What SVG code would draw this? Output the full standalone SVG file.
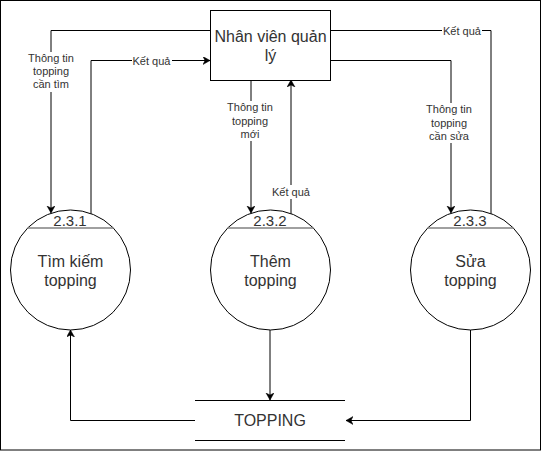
<svg xmlns="http://www.w3.org/2000/svg" width="542" height="452" viewBox="0 0 542 452">
<style>
.ln{fill:none;stroke:#000;stroke-width:1}
.sh{fill:#fff;stroke:#000;stroke-width:1}
.t16{font-family:"Liberation Sans",Arial,sans-serif;font-size:16px;fill:#333;text-anchor:middle}
.t15{font-family:"Liberation Sans",Arial,sans-serif;font-size:15px;fill:#333;text-anchor:middle}
.t11{font-family:"Liberation Sans",Arial,sans-serif;font-size:11px;fill:#333;text-anchor:middle}
.bg{fill:#fff;stroke:none}
</style>
<defs>
<marker id="arr" markerWidth="10" markerHeight="10" refX="7" refY="4" orient="auto" markerUnits="userSpaceOnUse">
<path d="M0,0 L7,4 L0,8 L2,4 Z" fill="#000" stroke="#000" stroke-width="0.5"/>
</marker>
</defs>
<rect x="0.5" y="0.5" width="540" height="449.5" fill="#fff" stroke="#000" stroke-width="1"/>

<g id="connectors">
<path class="ln" d="M210,30.5 H51 V213" marker-end="url(#arr)"/>
<path class="ln" d="M91,214 V60.5 H210" marker-end="url(#arr)"/>
<path class="ln" d="M251,80 V213" marker-end="url(#arr)"/>
<path class="ln" d="M291,214 V80" marker-end="url(#arr)"/>
<path class="ln" d="M330,60.5 H451 V213" marker-end="url(#arr)"/>
<path class="ln" d="M491,214 V30.5 H330"/>
<path class="ln" d="M270,330 V400" marker-end="url(#arr)"/>
<path class="ln" d="M195,420.5 H70.5 V330" marker-end="url(#arr)"/>
<path class="ln" d="M470.5,330 V420.5 H346" marker-end="url(#arr)"/>

<g id="lbl-tim">
<rect class="bg" x="25" y="52" width="52" height="40"/>
<text class="t11" x="51" y="62">Thông tin</text>
<text class="t11" x="51" y="75.2">topping</text>
<text class="t11" x="51" y="88.4">cần tìm</text>
</g>
<g id="lbl-kq1">
<rect class="bg" x="132" y="54" width="40" height="13"/>
<text class="t11" x="151.5" y="64.5">Kết quả</text>
</g>
<g id="lbl-moi">
<rect class="bg" x="224" y="101" width="52" height="40"/>
<text class="t11" x="250" y="111.3">Thông tin</text>
<text class="t11" x="250" y="124.5">topping</text>
<text class="t11" x="250" y="137.7">mới</text>
</g>
<g id="lbl-kq2">
<rect class="bg" x="271" y="185" width="40" height="14"/>
<text class="t11" x="291" y="196">Kết quả</text>
</g>
<g id="lbl-sua">
<rect class="bg" x="423" y="103" width="52" height="40"/>
<text class="t11" x="449" y="113.3">Thông tin</text>
<text class="t11" x="449" y="126.5">topping</text>
<text class="t11" x="449" y="139.7">cần sửa</text>
</g>
<g id="lbl-kq3">
<rect class="bg" x="442" y="24" width="40" height="13"/>
<text class="t11" x="462" y="34.5">Kết quả</text>
</g>
</g>

<g id="nhanvien">
<rect class="sh" x="210.5" y="10.5" width="120" height="70"/>
<text class="t16" x="270.5" y="41.5">Nhân viên quản</text>
<text class="t16" x="270.5" y="61">lý</text>
</g>

<g id="p231">
<circle class="sh" cx="70.5" cy="270" r="60"/>
<line x1="27.5" y1="228" x2="113.5" y2="228" stroke="#808080" stroke-width="1.5"/>
<text class="t15" x="70" y="226">2.3.1</text>
<text class="t16" x="70.5" y="266.5">Tìm kiếm</text>
<text class="t16" x="70.5" y="285.7">topping</text>
</g>

<g id="p232">
<circle class="sh" cx="270.5" cy="270" r="60"/>
<line x1="227.5" y1="228" x2="313.5" y2="228" stroke="#808080" stroke-width="1.5"/>
<text class="t15" x="270" y="226">2.3.2</text>
<text class="t16" x="270.5" y="266.5">Thêm</text>
<text class="t16" x="270.5" y="285.7">topping</text>
</g>

<g id="p233">
<circle class="sh" cx="470.5" cy="270" r="60"/>
<line x1="427.5" y1="228" x2="513.5" y2="228" stroke="#808080" stroke-width="1.5"/>
<text class="t15" x="470" y="226">2.3.3</text>
<text class="t16" x="470.5" y="266.5">Sửa</text>
<text class="t16" x="470.5" y="285.7">topping</text>
</g>

<g id="topping">
<line class="ln" x1="195" y1="400.5" x2="345" y2="400.5"/>
<line class="ln" x1="195" y1="440.5" x2="345" y2="440.5"/>
<text class="t16" x="270" y="425.7">TOPPING</text>
</g>
</svg>
